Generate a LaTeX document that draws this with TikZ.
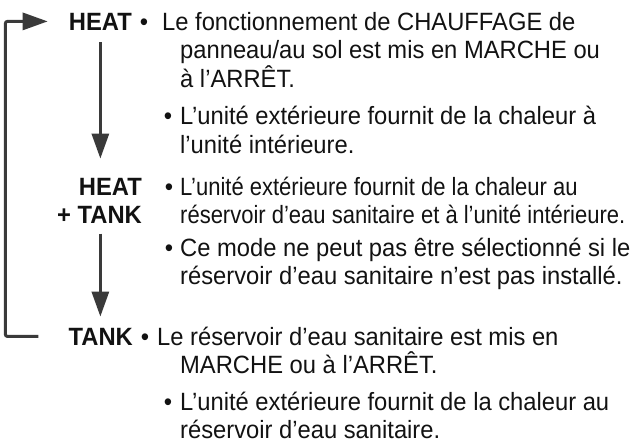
\documentclass[tikz,border=0pt]{standalone}
\usepackage{fontspec}
\setmainfont[FakeStretch=0.95]{Liberation Sans}
\newfontfamily\squeezed[FakeStretch=0.88]{Liberation Sans}
\usetikzlibrary{arrows.meta,positioning}
\definecolor{linegray}{RGB}{58,58,58}
\definecolor{inkblack}{RGB}{18,18,18}

\begin{document}
\begin{tikzpicture}[x=1pt, y=-1pt,
    mode/.style={font=\fontsize{25}{28.5}\selectfont\bfseries, inner sep=0pt, text=inkblack},
    desc/.style={font=\fontsize{25}{28.5}\selectfont, inner sep=0pt, anchor=base west, align=left, text=inkblack},
    dot/.style={font=\fontsize{25}{28.5}\selectfont, inner sep=0pt, anchor=base, text=inkblack},
    flow/.style={draw=linegray, line width=3pt, -{Triangle[length=25pt,width=17pt]}}
]
\useasboundingbox (0,0) rectangle (634,445);

% Mode 1: HEAT (multi-line nodes sit on their last baseline)
\node[mode, anchor=base east] (heat) at (132,30) {HEAT};
\node[dot] (heatdotA) at (144,30) {\textbullet};
\node[desc] (heatA) at (162,87) {Le fonctionnement de CHAUFFAGE de\\\hspace*{18pt}panneau/au sol est mis en MARCHE ou\\\hspace*{18pt}à l’ARRÊT.};
\node[dot] (heatdotB) at (168,124.5) {\textbullet};
\node[desc] (heatB) at (180,153) {L’unité extérieure fournit de la chaleur à\\l’unité intérieure.};

% Mode 2: HEAT + TANK
\node[mode, anchor=base east, align=right] (both) at (142,223.5) {HEAT\\+ TANK};
\node[dot] (bothdotA) at (169,195) {\textbullet};
\node[desc] (bothA) at (180,223.5) {\squeezed L’unité extérieure fournit de la chaleur au\\\squeezed réservoir d’eau sanitaire et à l’unité intérieure.};
\node[dot] (bothdotB) at (169,256) {\textbullet};
\node[desc] (bothB) at (180,284.5) {Ce mode ne peut pas être sélectionné si le\\réservoir d’eau sanitaire n’est pas installé.};

% Mode 3: TANK
\node[mode, anchor=base east] (tank) at (133,345) {TANK};
\node[dot] (tankdotA) at (145,345) {\textbullet};
\node[desc] (tankA) at (157,373.5) {Le réservoir d’eau sanitaire est mis en\\\hspace*{23pt}MARCHE ou à l’ARRÊT.};
\node[dot] (tankdotB) at (168,410) {\textbullet};
\node[desc] (tankB) at (180,438.5) {L’unité extérieure fournit de la chaleur au\\réservoir d’eau sanitaire.};

% Arrows
\draw[flow, shorten <=12pt, shorten >=19pt] (heat.south) -- (heat.south |- both.north);
\draw[flow, shorten <=10pt, shorten >=11pt] (heat.south |- both.south) -- (heat.south |- tank.north);
\draw[flow, rounded corners=2pt] ([xshift=-30pt]tank.west) -- ++(-33,0) |- ([xshift=-21pt]heat.west);

\end{tikzpicture}
\end{document}
